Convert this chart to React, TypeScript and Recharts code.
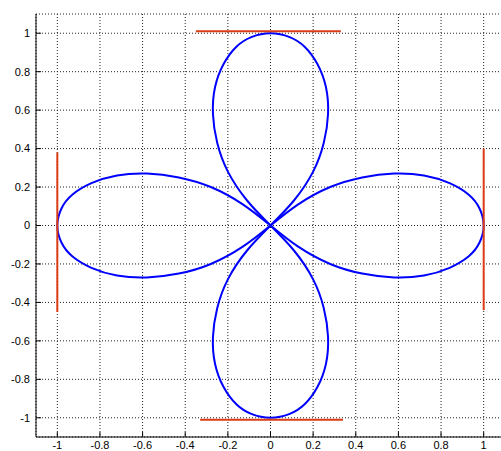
import React from "react";
import { LineChart, Line, XAxis, YAxis, CartesianGrid } from "recharts";

// four petals, each traced from the origin and back
const petalRight = [
  { x: 0, y: 0 }, { x: 0.13, y: -0.11 }, { x: 0.28, y: -0.2 }, { x: 0.43, y: -0.25 },
  { x: 0.58, y: -0.27 }, { x: 0.72, y: -0.26 }, { x: 0.84, y: -0.22 }, { x: 0.93, y: -0.16 },
  { x: 0.98, y: -0.09 }, { x: 1, y: 0 }, { x: 0.98, y: 0.09 }, { x: 0.93, y: 0.16 },
  { x: 0.84, y: 0.22 }, { x: 0.72, y: 0.26 }, { x: 0.58, y: 0.27 }, { x: 0.43, y: 0.25 },
  { x: 0.28, y: 0.2 }, { x: 0.13, y: 0.11 }, { x: 0, y: 0 },
];

const petalTop = [
  { x: 0, y: 0 }, { x: 0.11, y: 0.13 }, { x: 0.2, y: 0.28 }, { x: 0.25, y: 0.43 },
  { x: 0.27, y: 0.58 }, { x: 0.26, y: 0.72 }, { x: 0.22, y: 0.84 }, { x: 0.16, y: 0.93 },
  { x: 0.09, y: 0.98 }, { x: 0, y: 1 }, { x: -0.09, y: 0.98 }, { x: -0.16, y: 0.93 },
  { x: -0.22, y: 0.84 }, { x: -0.26, y: 0.72 }, { x: -0.27, y: 0.58 }, { x: -0.25, y: 0.43 },
  { x: -0.2, y: 0.28 }, { x: -0.11, y: 0.13 }, { x: 0, y: 0 },
];

const petalLeft = [
  { x: 0, y: 0 }, { x: -0.13, y: 0.11 }, { x: -0.28, y: 0.2 }, { x: -0.43, y: 0.25 },
  { x: -0.58, y: 0.27 }, { x: -0.72, y: 0.26 }, { x: -0.84, y: 0.22 }, { x: -0.93, y: 0.16 },
  { x: -0.98, y: 0.09 }, { x: -1, y: 0 }, { x: -0.98, y: -0.09 }, { x: -0.93, y: -0.16 },
  { x: -0.84, y: -0.22 }, { x: -0.72, y: -0.26 }, { x: -0.58, y: -0.27 }, { x: -0.43, y: -0.25 },
  { x: -0.28, y: -0.2 }, { x: -0.13, y: -0.11 }, { x: 0, y: 0 },
];

const petalBottom = [
  { x: 0, y: 0 }, { x: -0.11, y: -0.13 }, { x: -0.2, y: -0.28 }, { x: -0.25, y: -0.43 },
  { x: -0.27, y: -0.58 }, { x: -0.26, y: -0.72 }, { x: -0.22, y: -0.84 }, { x: -0.16, y: -0.93 },
  { x: -0.09, y: -0.98 }, { x: 0, y: -1 }, { x: 0.09, y: -0.98 }, { x: 0.16, y: -0.93 },
  { x: 0.22, y: -0.84 }, { x: 0.26, y: -0.72 }, { x: 0.27, y: -0.58 }, { x: 0.25, y: -0.43 },
  { x: 0.2, y: -0.28 }, { x: 0.11, y: -0.13 }, { x: 0, y: 0 },
];

// red bars touching the petal tips
const barTop = [{ x: -0.35, y: 1.01 }, { x: 0.33, y: 1.01 }];
const barBottom = [{ x: -0.33, y: -1.01 }, { x: 0.34, y: -1.01 }];
const barLeft = [{ x: -1, y: 0.38 }, { x: -1, y: -0.45 }];
const barRight = [{ x: 1, y: 0.4 }, { x: 1, y: -0.44 }];

const ticks = [-1, -0.8, -0.6, -0.4, -0.2, 0, 0.2, 0.4, 0.6, 0.8, 1];

const BLUE = "#0000ff";
const RED = "#dc3c14";
const FONT = "'Liberation Sans', Arial, sans-serif";

const fmt = (v: number) => String(Math.round(v * 10) / 10);

const BottomTick = ({ x, y, payload }: any) => (
  <g>
    <line x1={x} x2={x} y1={y - 4} y2={y - 9} stroke="#000" />
    <text x={x} y={y} dy="0.71em" textAnchor="middle" fontSize={11} fontFamily={FONT} fill="#000">
      {fmt(payload.value)}
    </text>
  </g>
);

const TopTick = ({ x, y }: any) => (
  <line x1={x} x2={x} y1={y} y2={y + 5} stroke="#000" />
);

const LeftTick = ({ x, y, payload }: any) => (
  <g>
    <line x1={x + 6} x2={x + 11} y1={y} y2={y} stroke="#000" />
    <text x={x} y={y} dy="0.355em" textAnchor="end" fontSize={11} fontFamily={FONT} fill="#000">
      {fmt(payload.value)}
    </text>
  </g>
);

export default function App() {
  const petals = [petalRight, petalTop, petalLeft, petalBottom];
  const bars = [barTop, barBottom, barLeft, barRight];
  return (
    <div style={{ position: "absolute", left: 0, top: 0, width: 501, height: 451, overflow: "hidden", background: "#fff" }}>
      <LineChart width={520} height={451} margin={{ top: 14, right: 15, bottom: 0, left: 6 }}>
        <CartesianGrid stroke="#222" strokeDasharray="1 2" />
        <XAxis
          dataKey="x"
          type="number"
          domain={[-1.1, 1.1]}
          ticks={ticks}
          allowDataOverflow
          height={14}
          tickSize={0}
          tickMargin={4}
          tickLine={false}
          axisLine={{ stroke: "#000" }}
          tick={<BottomTick />}
        />
        <XAxis
          xAxisId="top"
          orientation="top"
          dataKey="x"
          type="number"
          domain={[-1.1, 1.1]}
          ticks={ticks}
          allowDataOverflow
          height={0}
          tickSize={0}
          tickMargin={0}
          tickLine={false}
          axisLine={{ stroke: "#000" }}
          tick={<TopTick />}
        />
        <YAxis
          dataKey="y"
          type="number"
          domain={[-1.1, 1.1]}
          ticks={ticks}
          allowDataOverflow
          width={30}
          tickSize={0}
          tickMargin={6}
          tickLine={false}
          axisLine={{ stroke: "#000" }}
          tick={<LeftTick />}
        />
        {petals.map((p, i) => (
          <Line
            key={"p" + i}
            data={p}
            dataKey="y"
            type="natural"
            stroke={BLUE}
            strokeWidth={2}
            dot={false}
            activeDot={false}
            isAnimationActive={false}
          />
        ))}
        {bars.map((b, i) => (
          <Line
            key={"b" + i}
            data={b}
            dataKey="y"
            type="linear"
            stroke={RED}
            strokeWidth={2}
            dot={false}
            activeDot={false}
            isAnimationActive={false}
          />
        ))}
      </LineChart>
    </div>
  );
}
